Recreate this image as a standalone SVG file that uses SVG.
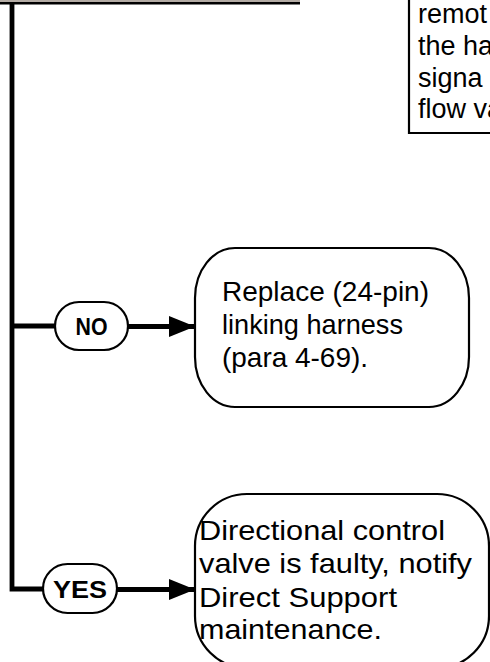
<svg xmlns="http://www.w3.org/2000/svg" width="490" height="662" viewBox="0 0 490 662">
<style>
.box{fill:#fff;stroke:#000;stroke-width:2.2}
.wire{fill:none;stroke:#000;stroke-width:4.8}
.t{font-family:"Liberation Sans",Arial,sans-serif;font-size:28px;fill:#000}
.rt{font-family:"Liberation Sans",Arial,sans-serif;font-size:27px;fill:#000}
.lbl{font-family:"Liberation Sans",Arial,sans-serif;font-size:24px;font-weight:bold;fill:#000;text-anchor:middle}
</style>
<defs>
<marker id="ah" viewBox="0 0 26 21" refX="26" refY="10.5" markerWidth="26" markerHeight="21" markerUnits="userSpaceOnUse" orient="auto">
<path d="M0,0 L26,10.5 L0,21 Z" fill="#000"/>
</marker>
</defs>
<rect x="0" y="0" width="490" height="662" fill="#fff"/>
<g id="top-box">
<rect x="0" y="0" width="300" height="2" fill="#b3aba4"/>
<line x1="0" y1="3.3" x2="300" y2="3.3" stroke="#000" stroke-width="2.6"/>
</g>
<g id="right-box">
<path d="M409,0 V133 H492" fill="#fff" stroke="#000" stroke-width="2.2"/>
<text class="rt" x="418" y="23">remot</text>
<text class="rt" x="418" y="55">the ha</text>
<text class="rt" x="418" y="87">signa</text>
<text class="rt" x="418" y="118">flow va</text>
</g>
<g id="connectors">
<path class="wire" d="M12,3 V589 H43"/>
<line class="wire" x1="12" y1="326" x2="55" y2="326"/>
<line class="wire" x1="128" y1="326.5" x2="195" y2="326.5" marker-end="url(#ah)"/>
<line class="wire" x1="117" y1="589.5" x2="195" y2="589.5" marker-end="url(#ah)"/>
</g>
<g id="no-label">
<rect class="box" x="55" y="302" width="73" height="48" rx="24" ry="24"/>
<text class="lbl" x="91.5" y="335" textLength="32" lengthAdjust="spacingAndGlyphs">NO</text>
</g>
<g id="yes-label">
<rect class="box" x="43" y="564" width="74" height="49" rx="24.5" ry="24.5"/>
<text class="lbl" x="80" y="598" textLength="54" lengthAdjust="spacingAndGlyphs">YES</text>
</g>
<g id="no-result">
<rect class="box" x="195" y="248" width="274" height="159" rx="40" ry="50"/>
<text class="t" x="222" y="301" textLength="207" lengthAdjust="spacingAndGlyphs">Replace (24-pin)</text>
<text class="t" x="222" y="334" textLength="181" lengthAdjust="spacingAndGlyphs">linking harness</text>
<text class="t" x="222" y="367" textLength="146" lengthAdjust="spacingAndGlyphs">(para 4-69).</text>
</g>
<g id="yes-result">
<rect class="box" x="195" y="494" width="294" height="174" rx="52" ry="52"/>
<text class="t" x="199" y="540" textLength="246" lengthAdjust="spacingAndGlyphs">Directional control</text>
<text class="t" x="199" y="573" textLength="273" lengthAdjust="spacingAndGlyphs">valve is faulty, notify</text>
<text class="t" x="199" y="607" textLength="198" lengthAdjust="spacingAndGlyphs">Direct Support</text>
<text class="t" x="199" y="639" textLength="183" lengthAdjust="spacingAndGlyphs">maintenance.</text>
</g>
</svg>
